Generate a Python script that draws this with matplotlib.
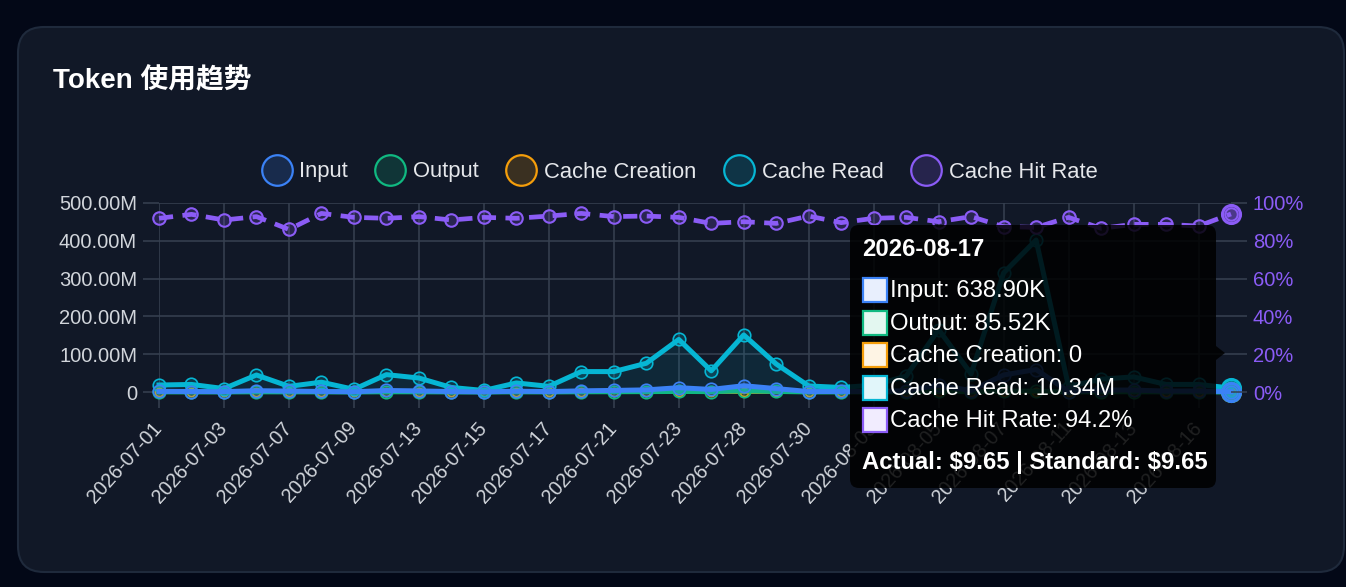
import numpy as np
import matplotlib
matplotlib.use("Agg")
from matplotlib import pyplot as plt
from matplotlib.patches import FancyBboxPatch, Rectangle, Polygon
from matplotlib.lines import Line2D
from matplotlib.ticker import FuncFormatter, FixedLocator
from matplotlib.colors import to_rgba

# ----------------------------------------------------------------------
# Dados
# ----------------------------------------------------------------------
datas = ["2026-07-01", "2026-07-02", "2026-07-03", "2026-07-06", "2026-07-07",
         "2026-07-08", "2026-07-09", "2026-07-10", "2026-07-13", "2026-07-14",
         "2026-07-15", "2026-07-16", "2026-07-17", "2026-07-20", "2026-07-21",
         "2026-07-22", "2026-07-23", "2026-07-27", "2026-07-28", "2026-07-29",
         "2026-07-30", "2026-07-31", "2026-08-03", "2026-08-04", "2026-08-05",
         "2026-08-06", "2026-08-07", "2026-08-10", "2026-08-11", "2026-08-12",
         "2026-08-13", "2026-08-14", "2026-08-16", "2026-08-17"]

# tokens, em milhoes
entrada = [1.6, 1.3, 0.9, 3.5, 2.4, 1.5, 0.6, 4.0, 2.9, 1.2,
           0.35, 2.1, 1.1, 3.1, 4.2, 5.6, 11.4, 6.8, 16.6, 9.0,
           1.2, 1.4, 1.6, 3.4, 18.1, 3.7, 45.0, 59.5, 1.15, 5.3,
           5.1, 2.5, 2.8, 0.6389]
saida = [0.3, 0.2, 0.2, 0.5, 0.3, 0.3, 0.1, 0.6, 0.5, 0.2,
         0.1, 0.4, 0.2, 0.6, 0.7, 1.0, 1.5, 1.0, 3.0, 1.4,
         0.2, 0.2, 0.3, 0.5, 1.8, 0.6, 2.0, 2.5, 0.2, 0.6,
         0.6, 0.3, 0.3, 0.08552]
criacao_cache = [0.0] * 34
leitura_cache = [18.5, 20.0, 9.0, 45.0, 15.0, 26.0, 7.0, 46.0, 37.0, 12.0,
                 4.0, 24.0, 15.0, 54.0, 54.0, 76.0, 139.0, 56.0, 151.0, 74.0,
                 16.0, 12.0, 18.0, 42.0, 165.0, 48.0, 315.0, 402.0, 14.0, 34.0,
                 40.0, 20.0, 20.0, 10.34]
# taxa de acerto do cache, %
taxa_acerto = [91.9, 94.0, 91.0, 92.8, 86.0, 94.5, 92.4, 91.9, 92.8, 91.0,
               92.4, 91.9, 93.1, 94.5, 92.8, 93.1, 92.4, 89.2, 90.1, 89.2,
               93.1, 89.6, 91.9, 92.4, 90.1, 92.8, 87.5, 87.1, 92.4, 86.6,
               88.7, 88.7, 87.8, 94.2]
custo_real = 9.65
custo_padrao = 9.65

nomes = ["Input", "Output", "Cache Creation", "Cache Read", "Cache Hit Rate"]
cores = ["#3b82f6", "#10b981", "#f59e0b", "#06b6d4", "#8b5cf6"]

# ----------------------------------------------------------------------
# Definicoes gerais
# ----------------------------------------------------------------------
plt.rcParams['font.family'] = ['Liberation Sans', 'Noto Sans CJK SC', 'DejaVu Sans']
W, H = 1346, 587
CorFundo = "#030817"
CorCartao = "#111827"
CorGrade = "#374151"
CorTexto = "#d1d5db"
TamTick = 14.5

Grafico = plt.figure(figsize=(W / 100, H / 100), dpi=100)
Grafico.patch.set_facecolor(CorFundo)

# fundo em coordenadas de pixel
fundo = Grafico.add_axes([0, 0, 1, 1], zorder=-5)
fundo.set_xlim(0, W)
fundo.set_ylim(H, 0)
fundo.axis("off")
fundo.add_patch(FancyBboxPatch((18, 27), 1326, 545,
                               boxstyle="round,pad=0,rounding_size=26",
                               fc=CorCartao, ec="#1f2a3c", lw=1.5))
fundo.text(53, 81, "Token 使用趋势", fontsize=20, fontweight="bold",
           color="white", va="center", ha="left")

# ----------------------------------------------------------------------
# Eixos principais
# ----------------------------------------------------------------------
x = np.arange(len(datas))
M = 1e6
serie = {
    "Input": np.array(entrada) * M,
    "Output": np.array(saida) * M,
    "Cache Creation": np.array(criacao_cache) * M,
    "Cache Read": np.array(leitura_cache) * M,
}

ax = Grafico.add_axes([159 / W, (H - 392) / H, 1072 / W, 189 / H])
ax.set_facecolor("none")
ax.set_xlim(0, len(datas) - 1)
ax.set_ylim(0, 500 * M)
ax.yaxis.set_major_locator(FixedLocator(np.arange(0, 501, 100) * M))
ax.yaxis.set_major_formatter(FuncFormatter(lambda v, p: "0" if v == 0 else f"{v / M:.2f}M"))
ax.set_xticks(x[::2])
ax.set_xticklabels(datas[::2], rotation=48, ha="right", va="center",
                   rotation_mode="anchor")
ax.tick_params(axis="both", length=11.5, width=1.1, color=CorGrade,
               labelcolor=CorTexto, labelsize=TamTick)
ax.tick_params(axis="y", pad=4.3)
ax.tick_params(axis="x", pad=12, labelsize=14.2)
ax.grid(color=CorGrade, lw=1.1)
ax.set_axisbelow(True)
for s in ax.spines.values():
    s.set_visible(False)

# ordem de desenho: de baixo para cima
ordem = ["Cache Creation", "Cache Read", "Output", "Input"]
for k, nome in enumerate(ordem):
    i = nomes.index(nome)
    c = cores[i]
    y = serie[nome]
    esp = 2.0 if nome == "Cache Creation" else 3.6
    tam = 6 if nome == "Cache Creation" else 9
    ax.fill_between(x, y, 0, color=c, alpha=0.10, lw=0, zorder=2 + k)
    ax.plot(x, y, color=c, lw=esp, marker="o", ms=tam, mew=1.2,
            mfc=to_rgba(c, 0.2), mec=c, clip_on=False, zorder=3 + k)
    # ponto em destaque (hover)
    ax.plot(x[-1], y[-1], marker="o", ms=13, mew=2.2, mfc=to_rgba(c, 0.35),
            mec=c, clip_on=False, zorder=3 + k)

ax2 = ax.twinx()
ax2.set_ylim(0, 100)
ax2.set_yticks(np.arange(0, 101, 20))
ax2.yaxis.set_major_formatter(FuncFormatter(lambda v, p: f"{v:.0f}%"))
ax2.tick_params(axis="y", length=11.5, width=1.1, color=CorGrade,
                labelcolor=cores[4], labelsize=TamTick, pad=4.3)
for s in ax2.spines.values():
    s.set_visible(False)
ax2.plot(x, taxa_acerto, color=cores[4], lw=3.4, ls=(0, (3, 2)), marker="o",
         ms=9, mew=1.5, mfc=to_rgba(cores[4], 0.2), mec=cores[4], clip_on=False)
ax2.plot(x[-1], taxa_acerto[-1], marker="o", ms=13, mew=2.2,
         mfc=to_rgba(cores[4], 0.35), mec=cores[4], clip_on=False)

# ----------------------------------------------------------------------
# Legenda
# ----------------------------------------------------------------------
alcas = [Line2D([], [], ls="none", marker="o", ms=22, mew=1.6,
                mfc=to_rgba(c, 0.18), mec=c) for c in cores]
leg = ax.legend(alcas, nomes, loc="center", bbox_to_anchor=(679 / W, (H - 172) / H),
                bbox_transform=Grafico.transFigure, ncol=5, frameon=False,
                fontsize=15.8, handlelength=1.45, handletextpad=0.32,
                columnspacing=1.2, borderaxespad=0)
for t in leg.get_texts():
    t.set_color("#e5e7eb")

# ----------------------------------------------------------------------
# Tooltip
# ----------------------------------------------------------------------
topo = Grafico.add_axes([0, 0, 1, 1], zorder=20)
topo.set_xlim(0, W)
topo.set_ylim(H, 0)
topo.axis("off")
topo.set_facecolor("none")
topo.add_patch(FancyBboxPatch((850, 225), 366, 263,
                              boxstyle="round,pad=0,rounding_size=9",
                              fc=(0, 0, 0, 0.85), ec="none"))
topo.add_patch(Polygon([[1216, 346], [1225, 353], [1216, 360]], closed=True,
                       fc=(0, 0, 0, 0.85), ec="none"))


def fmt(v):
    if v == 0:
        return "0"
    if v >= M:
        return f"{v / M:.2f}M"
    return f"{v / 1e3:.2f}K"


ult = len(datas) - 1
topo.text(862, 249, datas[ult], fontsize=17.2, fontweight="bold", color="white",
          va="center", ha="left")
linhas = [f"{n}: {fmt(serie[n][ult])}" for n in nomes[:4]]
linhas.append(f"{nomes[4]}: {taxa_acerto[ult]:.1f}%")
claros = ["#e8effd", "#e3f7f0", "#fef4e4", "#e1f6fa", "#f1ecfe"]
for j, txt in enumerate(linhas):
    yc = 290 + 32.6 * j
    topo.add_patch(Rectangle((862.5, yc - 12), 24, 24, fc=claros[j],
                             ec=cores[j], lw=1.6))
    topo.text(890, yc + 1, txt, fontsize=17.2, color="white", va="center", ha="left")
rodape = f"Actual: \\${custo_real:.2f} | Standard: \\${custo_padrao:.2f}"
topo.text(862, 462, rodape, fontsize=17.2, fontweight="bold", color="white",
          va="center", ha="left")

Grafico.savefig("out.png", dpi=100, facecolor=Grafico.get_facecolor())
